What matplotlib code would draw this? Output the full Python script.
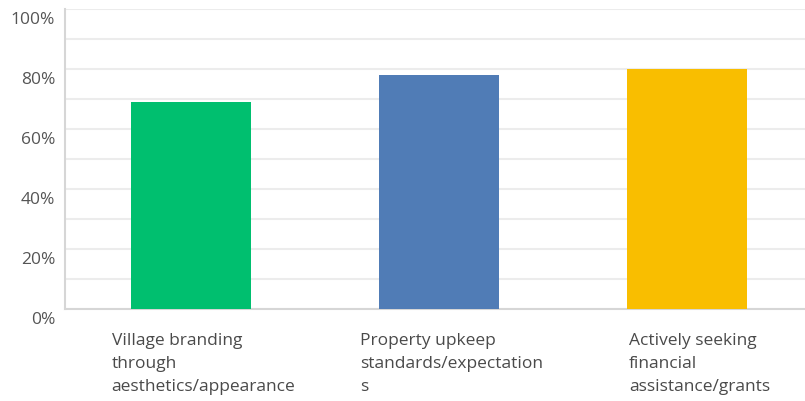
import matplotlib.pyplot as plt
import matplotlib.transforms as mtransforms
from matplotlib.ticker import MultipleLocator

categories = [
    "Village branding\nthrough\naesthetics/appearance",
    "Property upkeep\nstandards/expectation\ns",
    "Actively seeking\nfinancial\nassistance/grants",
]
values = [69, 78, 80]
colors = ["#00BF6F", "#507CB6", "#F9BE00"]
yticks = [0, 20, 40, 60, 80, 100]
ytick_labels = ["0%", "20%", "40%", "60%", "80%", "100%"]

plt.rcParams["font.family"] = ["Open Sans", "DejaVu Sans"]

fig = plt.figure(figsize=(8.05, 4.01), dpi=100)
ax = fig.add_axes([65 / 805, 1 - 309 / 401, 740 / 805, 300 / 401])

x = range(len(values))
ax.bar(x, values, width=0.484, color=colors, zorder=3)

ax.set_xlim(-0.508, 2.476)
ax.set_ylim(0, 100)
ax.yaxis.set_minor_locator(MultipleLocator(10))
ax.grid(axis="y", which="both", color="#ececec", linewidth=1.5, zorder=0)
ax.set_yticks(yticks)
ax.set_yticklabels(ytick_labels)
ax.tick_params(axis="y", which="both", length=0, pad=7, labelsize=12.5,
               labelcolor="#555555")
# shift y labels slightly below their gridlines
offset = mtransforms.ScaledTranslation(0, -9 / 100, fig.dpi_scale_trans)
for lbl in ax.get_yticklabels():
    lbl.set_transform(lbl.get_transform() + offset)

ax.set_xticks([])
for side in ["top", "right"]:
    ax.spines[side].set_visible(False)
for side in ["left", "bottom"]:
    ax.spines[side].set_color("#d6d6d6")
    ax.spines[side].set_linewidth(1.5)

# category labels: block centred a little right of each bar, text left-aligned
for i, cat in enumerate(categories):
    ax.text(i + 0.05, -7.9, cat, ha="center", va="top", multialignment="left",
            fontsize=12.5, color="#4a4a4a", linespacing=1.58,
            transform=ax.transData, clip_on=False)

fig.savefig("out.png", dpi=100)
